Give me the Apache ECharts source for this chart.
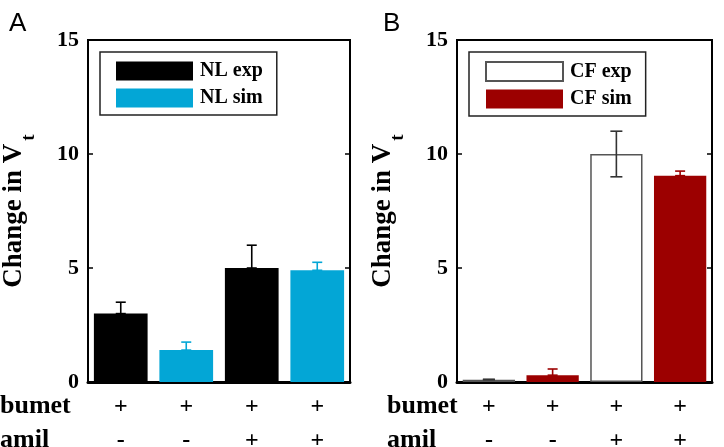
<!DOCTYPE html>
<html>
<head>
<meta charset="utf-8">
<script src="https://cdn.jsdelivr.net/npm/echarts@6/dist/echarts.min.js"></script>
<style>
  html, body { margin: 0; padding: 0; background: #fff; }
  #chart { width: 724px; height: 447px; }
</style>
</head>
<body>
<div id="chart"></div>
<script>
// treatments per column
var bumet = ['+', '+', '+', '+']
var amil = ['-', '-', '+', '+']
var categories = ['c1', 'c2', 'c3', 'c4']

// panel A (NL)
var nlExp = [3.0, null, 5.0, null]
var nlSim = [null, 1.4, null, 4.9]
var nlExpErr = [[0, 3.0, 3.5], [2, 5.0, 6.0]]
var nlSimErr = [[1, 1.4, 1.75], [3, 4.9, 5.25]]

// panel B (CF)
var cfExp = [0.1, null, 10.0, null]
var cfSim = [null, 0.3, null, 9.05]
var cfExpErr = [[0, 0.1, 0.12], [2, 9.0, 11.0]]
var cfSimErr = [[1, 0.3, 0.57], [3, 9.05, 9.25]]

var serif = '"Liberation Serif", "Times New Roman", serif'

function errorBars(color, cap) {
  return function (params, api) {
    var lo = api.coord([api.value(0), api.value(1)])
    var hi = api.coord([api.value(0), api.value(2)])
    var st = { stroke: color, lineWidth: 1.6 }
    return {
      type: 'group',
      children: [
        { type: 'line', shape: { x1: lo[0], y1: lo[1], x2: hi[0], y2: hi[1] }, style: st },
        { type: 'line', shape: { x1: hi[0] - cap, y1: hi[1], x2: hi[0] + cap, y2: hi[1] }, style: st },
        { type: 'line', shape: { x1: lo[0] - cap, y1: lo[1], x2: lo[0] + cap, y2: lo[1] }, style: st }
      ]
    }
  }
}

function xAxisFor(idx) {
  return {
    type: 'category',
    gridIndex: idx,
    data: categories,
    axisLine: { lineStyle: { color: '#000', width: 3 } },
    axisTick: { show: false },
    axisLabel: {
      margin: 8,
      lineHeight: 34,
      fontSize: 24,
      fontWeight: 'bold',
      fontFamily: serif,
      color: '#000',
      formatter: function (v, i) {
        return bumet[i] + '\n' + amil[i]
      }
    }
  }
}

function yAxisFor(idx) {
  return {
    type: 'value',
    gridIndex: idx,
    min: 0,
    max: 15,
    interval: 5,
    name: '{m|Change in V}{sub|t}',
    nameLocation: 'middle',
    nameGap: 60,
    nameTextStyle: {
      fontSize: 27,
      fontWeight: 'bold',
      fontFamily: serif,
      color: '#000',
      rich: {
        m: { fontSize: 27, lineHeight: 27, fontWeight: 'bold', fontFamily: serif, color: '#000', verticalAlign: 'top' },
        sub: { fontSize: 19, lineHeight: 19, fontWeight: 'bold', fontFamily: serif, color: '#000', verticalAlign: 'top', padding: [19, 0, 0, 3] }
      }
    },
    axisLine: { show: false },
    axisTick: { show: true, inside: true, length: 5, lineStyle: { color: '#000', width: 1.5 } },
    splitLine: { show: false },
    axisLabel: { margin: 9, fontSize: 22, fontWeight: 'bold', fontFamily: serif, color: '#000' }
  }
}

function rightAxisFor(idx) {
  return {
    type: 'value',
    gridIndex: idx,
    position: 'right',
    min: 0,
    max: 15,
    interval: 5,
    axisLine: { show: false },
    axisTick: { show: true, inside: true, length: 5, lineStyle: { color: '#000', width: 1.5 } },
    splitLine: { show: false },
    axisLabel: { show: false }
  }
}

function legendFor(names, left) {
  return {
    data: names,
    left: left,
    top: 52,
    orient: 'vertical',
    icon: 'rect',
    itemWidth: 77,
    itemHeight: 19,
    itemGap: 7,
    padding: [9, 14, 7, 16],
    borderColor: '#222',
    borderWidth: 1.5,
    backgroundColor: '#fff',
    selectedMode: false,
    textStyle: { fontSize: 20, fontWeight: 'bold', fontFamily: serif, color: '#000', padding: [0, 0, 0, 2] }
  }
}

function rowLabel(text, x, y) {
  return {
    type: 'text',
    left: x,
    top: y,
    style: { text: text, fontSize: 26, fontWeight: 'bold', fontFamily: serif, fill: '#000' }
  }
}

var chart = echarts.init(document.getElementById('chart'))
chart.setOption({
  backgroundColor: '#fff',
  animation: false,
  grid: [
    { left: 88, right: 374, top: 40, bottom: 65, outerBoundsMode: 'none', show: true, borderColor: '#000', borderWidth: 2, backgroundColor: 'transparent' },
    { left: 457, right: 12, top: 40, bottom: 65, outerBoundsMode: 'none', show: true, borderColor: '#000', borderWidth: 2, backgroundColor: 'transparent' }
  ],
  xAxis: [xAxisFor(0), xAxisFor(1)],
  yAxis: [yAxisFor(0), rightAxisFor(0), yAxisFor(1), rightAxisFor(1)],
  legend: [legendFor(['NL exp', 'NL sim'], 100), legendFor(['CF exp', 'CF sim'], 469)],
  graphic: [
    { type: 'text', left: 9, top: 11, style: { text: 'A', fontSize: 26, fontFamily: '"Liberation Sans", Arial, sans-serif', fill: '#000' } },
    { type: 'text', left: 383, top: 11, style: { text: 'B', fontSize: 26, fontFamily: '"Liberation Sans", Arial, sans-serif', fill: '#000' } },
    rowLabel('bumet', 0, 393),
    rowLabel('amil', 0, 427),
    rowLabel('bumet', 387, 393),
    rowLabel('amil', 387, 427)
  ],
  series: [
    { name: 'NL exp', type: 'bar', xAxisIndex: 0, yAxisIndex: 0, data: nlExp, barWidth: '82%', barGap: '-100%', itemStyle: { color: '#000' } },
    { name: 'NL sim', type: 'bar', xAxisIndex: 0, yAxisIndex: 0, data: nlSim, barWidth: '82%', barGap: '-100%', itemStyle: { color: '#03A6D6' } },
    { type: 'custom', xAxisIndex: 0, yAxisIndex: 0, data: nlExpErr, encode: { x: 0, y: [1, 2] }, renderItem: errorBars('#000', 5), z: 5 },
    { type: 'custom', xAxisIndex: 0, yAxisIndex: 0, data: nlSimErr, encode: { x: 0, y: [1, 2] }, renderItem: errorBars('#03A6D6', 5), z: 5 },
    { name: 'CF exp', type: 'bar', xAxisIndex: 1, yAxisIndex: 2, data: cfExp, barWidth: '82%', barGap: '-100%', itemStyle: { color: '#fff', borderColor: '#555', borderWidth: 1.5 } },
    { name: 'CF sim', type: 'bar', xAxisIndex: 1, yAxisIndex: 2, data: cfSim, barWidth: '82%', barGap: '-100%', itemStyle: { color: '#9C0000' } },
    { type: 'custom', xAxisIndex: 1, yAxisIndex: 2, data: cfExpErr, encode: { x: 0, y: [1, 2] }, renderItem: errorBars('#333', 6), z: 5 },
    { type: 'custom', xAxisIndex: 1, yAxisIndex: 2, data: cfSimErr, encode: { x: 0, y: [1, 2] }, renderItem: errorBars('#9C0000', 5), z: 5 }
  ]
})
</script>
</body>
</html>
